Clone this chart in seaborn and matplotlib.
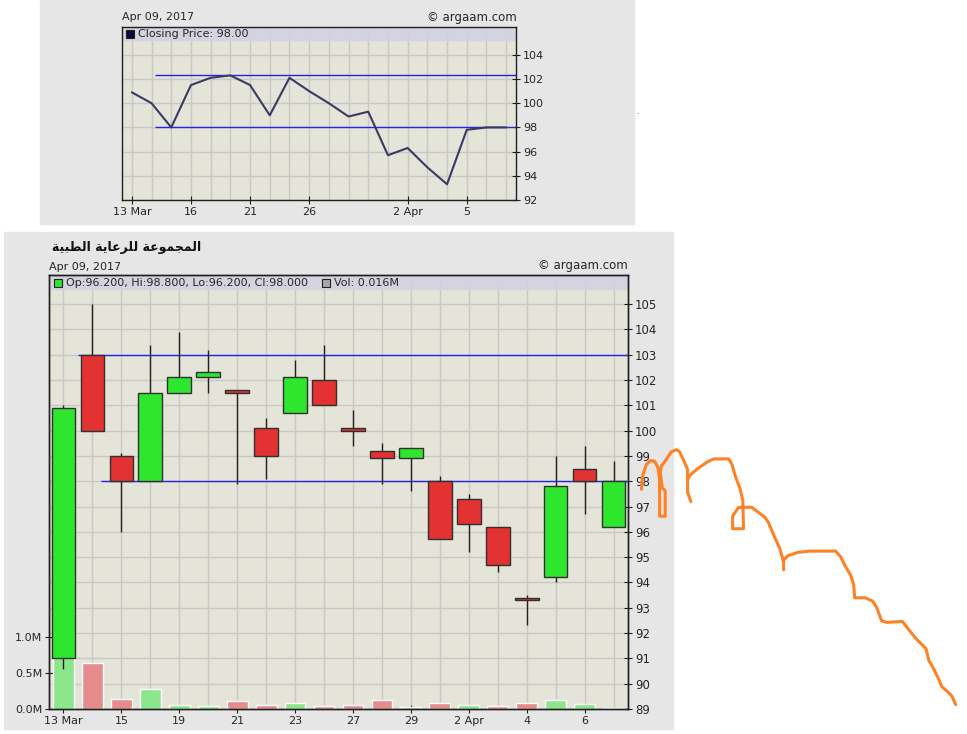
import matplotlib
matplotlib.use("Agg")
import numpy as np
import seaborn as sns
from matplotlib import pyplot as plt
from matplotlib.patches import Rectangle
from matplotlib.transforms import blended_transform_factory

# ---- data -------------------------------------------------------------
dates = ["13 Mar", "14 Mar", "15 Mar", "16 Mar", "19 Mar", "20 Mar", "21 Mar",
         "22 Mar", "23 Mar", "26 Mar", "27 Mar", "28 Mar", "29 Mar", "30 Mar",
         "2 Apr", "3 Apr", "4 Apr", "5 Apr", "6 Apr", "9 Apr"]
opens = [91.0, 103.0, 99.0, 98.0, 101.5, 102.1, 101.6, 100.1, 100.7, 102.0,
         100.1, 99.2, 98.9, 98.0, 97.3, 96.2, 93.4, 94.2, 98.5, 96.2]
highs = [101.0, 105.0, 99.1, 103.4, 103.9, 103.2, 101.6, 100.5, 102.8, 103.4,
         100.8, 99.5, 99.3, 98.2, 97.5, 96.2, 93.5, 99.0, 99.4, 98.8]
lows = [90.6, 100.0, 96.0, 98.0, 101.5, 101.5, 97.9, 98.1, 100.7, 101.0,
        99.4, 97.9, 97.6, 95.7, 95.2, 94.4, 92.3, 94.0, 96.7, 96.2]
closes = [100.9, 100.0, 98.0, 101.5, 102.1, 102.3, 101.5, 99.0, 102.1, 101.0,
          100.0, 98.9, 99.3, 95.7, 96.3, 94.7, 93.3, 97.8, 98.0, 98.0]
volumes = [0.95, 0.64, 0.14, 0.28, 0.06, 0.045, 0.11, 0.06, 0.09, 0.045,
           0.06, 0.125, 0.03, 0.08, 0.06, 0.045, 0.09, 0.125, 0.075, 0.016]

# horizontal levels: (price, first day index)
top_levels = [(102.3, 1.2), (98.0, 1.2)]
bottom_levels = [(103.0, 0.5), (98.0, 1.3)]

top_tick_idx = [0, 3, 6, 9, 14, 17]
top_tick_labels = ["13 Mar", "16", "21", "26", "2 Apr", "5"]
bottom_tick_idx = [0, 2, 4, 6, 8, 10, 12, 14, 16, 18]
bottom_tick_labels = ["13 Mar", "15", "19", "21", "23", "27", "29", "2 Apr", "4", "6"]

title_ar = "المجموعة للرعاية الطبية"
# same title in presentation forms, visual order (matplotlib does no Arabic shaping)
title_ar_shaped = ("\ufe94\ufef4\ufe92\ufec4\ufedf\ufe8d "
                   "\ufe94\ufef3\ufe8e\ufecb\ufeae\ufee0\ufedf "
                   "\ufe94\ufecb\ufeee\ufee4\ufea0\ufee4\ufedf\ufe8d")

# freehand orange mark drawn over the screenshot (pixel coords)
scribble = [
    ([641.5, 642.5, 646.4, 650.4, 654.7, 658.0, 659.6, 659.6, 665.2, 665.2, 662.2,
      660.3, 661.3, 666.2, 671.1, 676.1, 679.3, 683.3, 687.6, 687.6, 690.9],
     [489.2, 476.1, 464.5, 460.6, 461.3, 467.8, 479.3, 516.2, 516.2, 490.9, 487.6,
      472.8, 466.2, 459.6, 452.0, 449.7, 451.4, 459.6, 469.5, 492.5, 501.7]),
    ([687.6, 690.9, 697.4, 707.3, 713.9, 728.7, 732.0, 735.3, 740.2, 742.8, 743.5,
      732.6, 732.6, 738.6, 751.7, 764.9, 768.2, 773.1, 779.7, 783.6, 783.6],
     [479.3, 474.4, 468.8, 461.9, 458.9, 458.9, 464.5, 476.1, 489.2, 500.7, 528.7,
      528.7, 516.2, 507.3, 507.3, 517.2, 522.1, 533.6, 548.4, 561.6, 569.8]),
    ([783.0, 787.9, 797.8, 809.3, 835.6, 840.5, 845.5, 850.4, 853.7, 854.7, 865.2,
      872.8, 876.7, 881.6, 886.6, 902.4, 909.6, 916.2, 926.1, 928.7, 932.6, 937.6,
      941.8, 947.4, 951.7, 955.7],
     [560.9, 555.7, 552.4, 551.1, 551.1, 556.6, 566.5, 574.7, 584.6, 597.8, 597.8,
      601.1, 607.6, 620.8, 622.4, 621.4, 630.7, 638.9, 648.8, 660.3, 666.8, 676.7,
      686.6, 691.5, 695.8, 704.7]),
]

# ---- style ------------------------------------------------------------
W, H = 967, 734
PANEL = "#e6e6e6"
PLOT_BG = "#e4e4d8"
BAND = "#d2d2e2"
GRID = "#c8c8c8"
BLUE = "#2424e6"
GREEN = "#2ee62e"
RED = "#e23232"

sns.set_style("ticks")
plt.rcParams["font.family"] = ["DejaVu Sans"]
plt.rcParams["font.size"] = 8


def rect(l, t, r, b):
    return [l / W, 1 - b / H, (r - l) / W, (b - t) / H]


def fx(x):
    return x / W


def fy(y):
    return 1 - y / H


def style_axes(ax):
    for s in ax.spines.values():
        s.set_visible(True)
        s.set_color("#202020")
        s.set_linewidth(1)
    ax.tick_params(direction="inout", length=6, width=0.8, color="#202020",
                   labelsize=8, pad=2)


fig = plt.figure(figsize=(W / 100, H / 100), dpi=100)
fig.patch.set_facecolor("white")
fig.patches.append(Rectangle((fx(40), fy(224)), fx(634) - fx(40), fy(0) - fy(224),
                             transform=fig.transFigure, color=PANEL, zorder=-10))
fig.patches.append(Rectangle((fx(4), fy(729)), fx(673) - fx(4), fy(232) - fy(729),
                             transform=fig.transFigure, color=PANEL, zorder=-10))

idx = np.arange(len(dates))

# ---- top: closing price line -----------------------------------------
ax1 = fig.add_axes(rect(122, 27, 516, 200))
ax1.set_facecolor(PLOT_BG)
ax1.set_xlim(-0.5, 19.5)
ax1.set_ylim(92, 106.3)
ax1.vlines(idx, 92, 106.3, color=GRID, lw=1, zorder=0)
ax1.hlines(np.arange(92, 106, 2), -0.5, 19.5, color=GRID, lw=1, zorder=0)
ax1.add_patch(Rectangle((0, 0.925), 1, 0.075, transform=ax1.transAxes,
                        color=BAND, alpha=0.85, zorder=1))
for level, start in top_levels:
    ax1.hlines(level, start, 19.5, color=BLUE, lw=1, zorder=2)
sns.lineplot(x=idx, y=closes, color="#3a3a62", lw=1.5, ax=ax1, zorder=3)
style_axes(ax1)
ax1.yaxis.tick_right()
ax1.set_yticks(np.arange(92, 106, 2))
ax1.set_xticks(top_tick_idx, top_tick_labels)
ax1.set_xlabel("")
ax1.set_ylabel("")
ax1.add_patch(Rectangle((fx(126), fy(38)), fx(134) - fx(126), fy(30) - fy(38),
                        transform=fig.transFigure, facecolor="#0b0b3c",
                        edgecolor="#202020", lw=0.8, zorder=5))
fig.text(fx(138), fy(34), "Closing Price: 98.00", va="center", ha="left", fontsize=8)
fig.text(fx(122), fy(17), "Apr 09, 2017", va="center", ha="left", fontsize=8)
fig.text(fx(517), fy(17), "© argaam.com", va="center", ha="right", fontsize=8.5)

# ---- bottom: candles and volume ----------------------------------------
axv = fig.add_axes(rect(49, 275, 628, 709))
axv.set_facecolor(PLOT_BG)
vol_colors = ["#8ce68c"]
for prev, cur in zip(closes[:-1], closes[1:]):
    vol_colors.append("#8ce68c" if cur > prev else "#e68c8c" if cur < prev else "#b4b4b4")
sns.barplot(x=dates, y=volumes, hue=dates, palette=dict(zip(dates, vol_colors)),
            legend=False, width=0.72, saturation=1, ax=axv, zorder=2)
axv.set_xlim(-0.5, 19.5)
axv.set_ylim(0, 6.03)

ax2 = axv.twinx()
ax2.set_ylim(89, 106.15)
ax2.set_xlim(-0.5, 19.5)

# grid behind the volume bars, in price units
trans = blended_transform_factory(axv.transAxes, ax2.transData)
axv.hlines(np.arange(89, 106), 0, 1, transform=trans, color=GRID, lw=1, zorder=0)
axv.vlines(idx, 0, 6.03, color=GRID, lw=1, zorder=0)
axv.add_patch(Rectangle((0, 0.9677), 1, 0.0323, transform=axv.transAxes,
                        color=BAND, alpha=0.85, zorder=1))

for level, start in bottom_levels:
    ax2.hlines(level, start, 19.5, color=BLUE, lw=1, zorder=2)
body_colors = [GREEN if c >= o else RED for o, c in zip(opens, closes)]
ax2.vlines(idx, lows, highs, color="#202020", lw=1, zorder=3)
ax2.bar(idx, np.array(closes) - np.array(opens), bottom=opens, width=0.82,
        color=body_colors, edgecolor="#303030", lw=1, zorder=4)

style_axes(axv)
style_axes(ax2)
axv.set_xticks(bottom_tick_idx, bottom_tick_labels)
axv.set_yticks([0, 0.5, 1.0], ["0.0M", "0.5M", "1.0M"])
axv.set_xlabel("")
axv.set_ylabel("")
ax2.set_yticks(np.arange(89, 106))
ax2.tick_params(axis="y", labelsize=8.5)

fig.add_artist(Rectangle((fx(54), fy(287)), fx(62) - fx(54), fy(279) - fy(287),
                         transform=fig.transFigure, facecolor=GREEN,
                         edgecolor="#202020", lw=0.8, zorder=5))
fig.text(fx(66), fy(283), "Op:96.200, Hi:98.800, Lo:96.200, Cl:98.000",
         va="center", ha="left", fontsize=8)
fig.add_artist(Rectangle((fx(322), fy(287)), fx(330) - fx(322), fy(279) - fy(287),
                         transform=fig.transFigure, facecolor="#a8a8a8",
                         edgecolor="#202020", lw=0.8, zorder=5))
fig.text(fx(334), fy(283), "Vol: 0.016M", va="center", ha="left", fontsize=8)
fig.text(fx(52), fy(248), title_ar_shaped, va="center", ha="left",
         fontsize=9, fontweight="bold", color="#111111")
fig.text(fx(49), fy(267), "Apr 09, 2017", va="center", ha="left", fontsize=8)
fig.text(fx(628), fy(266), "© argaam.com", va="center", ha="right", fontsize=8.5)
fig.text(fx(637), fy(112), ".", va="center", ha="center", fontsize=6)

# ---- orange freehand overlay -------------------------------------------
axo = fig.add_axes([0, 0, 1, 1], zorder=20)
axo.set_xlim(0, W)
axo.set_ylim(H, 0)
axo.axis("off")
for xs, ys in scribble:
    axo.plot(xs, ys, color="#ff8125", lw=2.2, solid_joinstyle="round",
             solid_capstyle="round")

fig.savefig("out.png", dpi=100)
